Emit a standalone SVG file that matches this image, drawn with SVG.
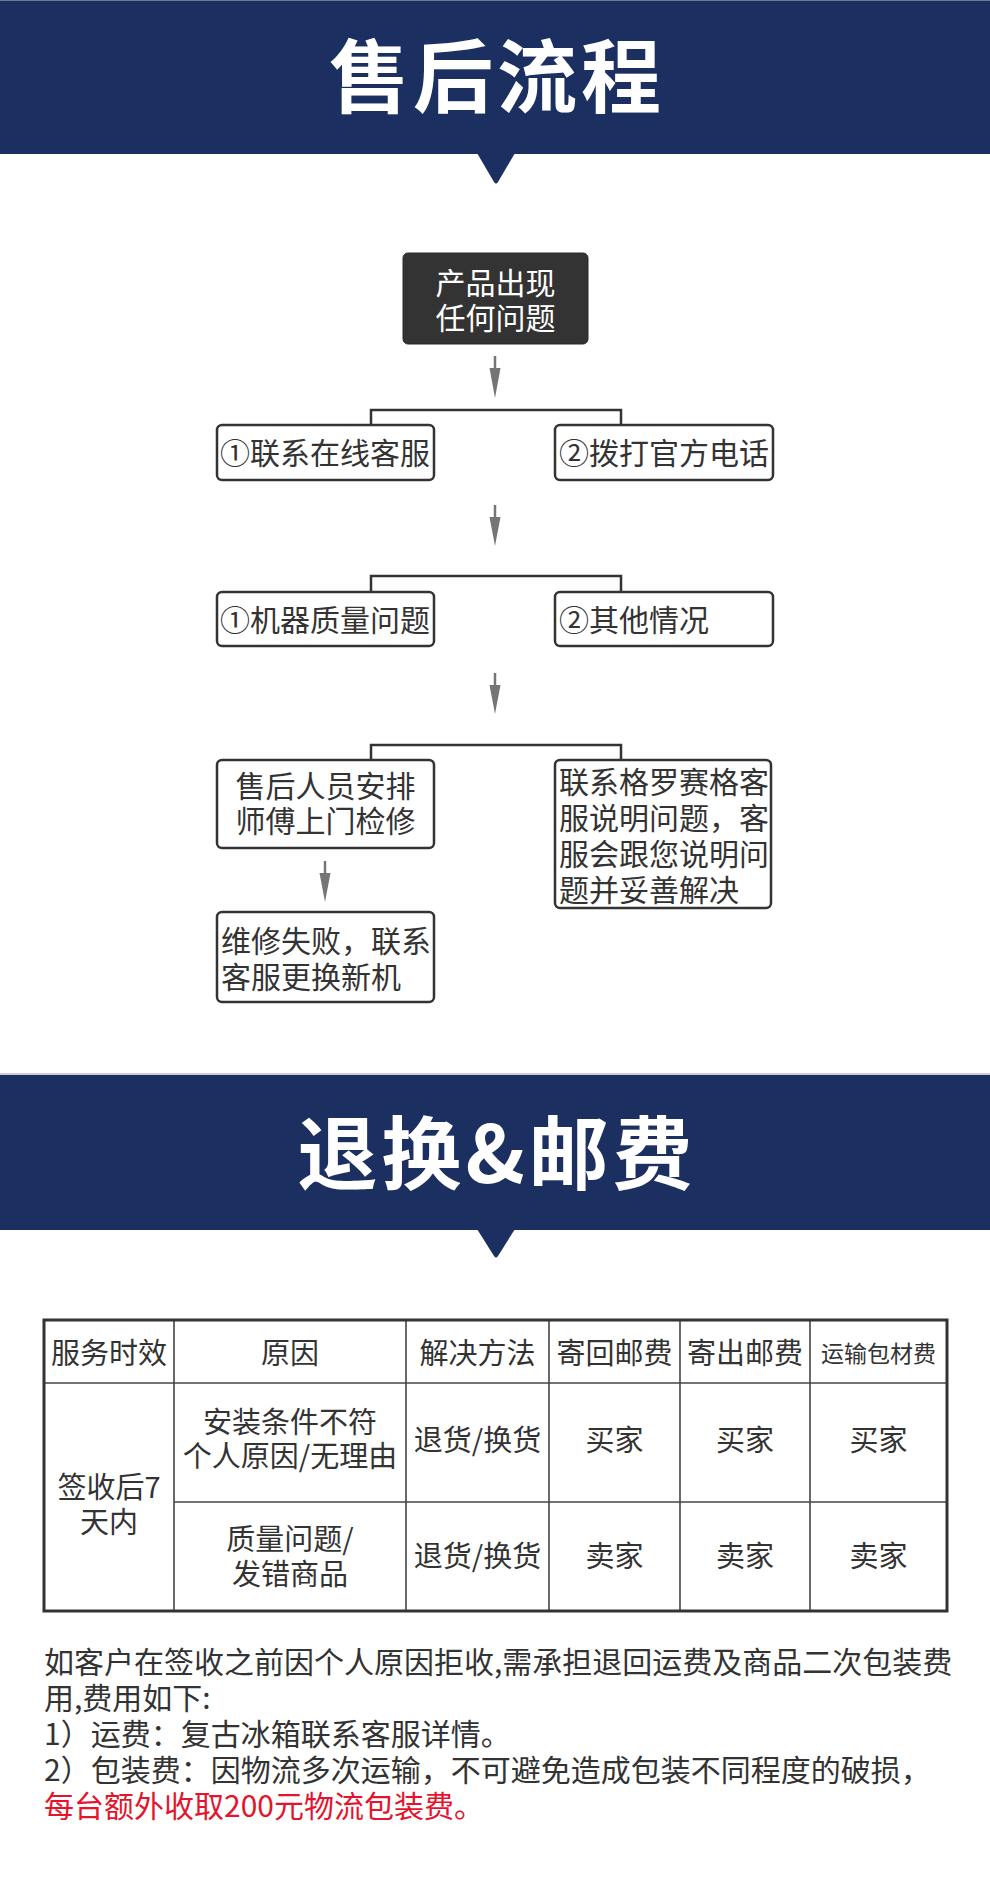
<svg xmlns="http://www.w3.org/2000/svg" width="990" height="1886" viewBox="0 0 990 1886">
<style>
text{font-family:"Noto Sans CJK SC","Noto Sans",sans-serif;fill:#333}
.title{font-size:80px;font-weight:700;fill:#fff;text-anchor:middle;letter-spacing:4px}
.banner{fill:#1b2f60}
.node{fill:#fff;stroke:#333;stroke-width:2.5}
.dark{fill:#333;stroke:#2a2a2a;stroke-width:1}
.nt{font-size:30px}
.wt{font-size:30px;fill:#fff;text-anchor:middle}
.c{text-anchor:middle}
.br{fill:none;stroke:#333;stroke-width:2.5}
.al{stroke:#757575;stroke-width:2.5;fill:none}
.ah{fill:#757575}
.tb{fill:none;stroke:#333;stroke-width:3}
.tl{stroke:#444;stroke-width:1.6}
.th{font-size:29px;text-anchor:middle}
.p{font-size:30px}
.red{fill:#e5132c}
</style>
<rect width="990" height="1886" fill="#fff"/>
<g id="banner1">
<rect class="banner" x="0" y="0" width="990" height="154"/>
<line x1="0" y1="0.5" x2="990" y2="0.5" stroke="#6b7897" stroke-width="1"/>
<path class="banner" d="M477,153 L515,153 L498,182 Q496,185 494,182 Z"/>
<text class="title" x="497" y="106">售后流程</text>
</g>
<g id="connectors">
<path class="br" d="M371,425 V410 H621 V425"/>
<path class="br" d="M371,592 V576 H621 V592"/>
<path class="br" d="M371,760 V745 H621 V760"/>
<line class="al" x1="495" y1="356" x2="495" y2="370"/>
<path class="ah" d="M489.5,368 L500.5,368 L495,398 Z"/>
<line class="al" x1="495" y1="505" x2="495" y2="519"/>
<path class="ah" d="M489.5,517 L500.5,517 L495,546 Z"/>
<line class="al" x1="495" y1="673" x2="495" y2="687"/>
<path class="ah" d="M489.5,685 L500.5,685 L495,714 Z"/>
<line class="al" x1="325" y1="861" x2="325" y2="875"/>
<path class="ah" d="M319.5,873 L330.5,873 L325,902 Z"/>
</g>
<g id="n-start">
<rect class="dark" x="403" y="253" width="185" height="91" rx="5"/>
<text class="wt" x="495.5" y="294">产品出现</text>
<text class="wt" x="495.5" y="329">任何问题</text>
</g>
<g id="n-online">
<rect class="node" x="217" y="425" width="217" height="55" rx="5"/>
<text class="nt" x="220" y="464">①联系在线客服</text>
</g>
<g id="n-phone">
<rect class="node" x="555" y="425" width="218" height="55" rx="5"/>
<text class="nt" x="559" y="464">②拨打官方电话</text>
</g>
<g id="n-quality">
<rect class="node" x="217" y="592" width="217" height="54" rx="5"/>
<text class="nt" x="220" y="631">①机器质量问题</text>
</g>
<g id="n-other">
<rect class="node" x="555" y="592" width="218" height="54" rx="5"/>
<text class="nt" x="559" y="631">②其他情况</text>
</g>
<g id="n-repair">
<rect class="node" x="217" y="760" width="217" height="88" rx="5"/>
<text class="nt c" x="325.5" y="797">售后人员安排</text>
<text class="nt c" x="325.5" y="832">师傅上门检修</text>
</g>
<g id="n-contact">
<rect class="node" x="555" y="760" width="216" height="148" rx="5"/>
<text class="nt" x="559" y="793">联系格罗赛格客</text>
<text class="nt" x="559" y="829">服说明问题，客</text>
<text class="nt" x="559" y="865">服会跟您说明问</text>
<text class="nt" x="559" y="901">题并妥善解决</text>
</g>
<g id="n-fail">
<rect class="node" x="217" y="912" width="217" height="90" rx="5"/>
<text class="nt" x="221" y="952">维修失败，联系</text>
<text class="nt" x="221" y="988">客服更换新机</text>
</g>
<g id="banner2">
<line x1="0" y1="1074" x2="990" y2="1074" stroke="#b9bcc4" stroke-width="1.5"/>
<rect class="banner" x="0" y="1075" width="990" height="155"/>
<path class="banner" d="M477,1229 L515,1229 L498,1256 Q496,1259 494,1256 Z"/>
<text class="title" x="497" y="1183">退换&amp;邮费</text>
</g>
<g id="table">
<line class="tl" x1="44" y1="1383" x2="947" y2="1383"/>
<line class="tl" x1="174" y1="1502" x2="947" y2="1502"/>
<line class="tl" x1="174" y1="1320" x2="174" y2="1611"/>
<line class="tl" x1="406" y1="1320" x2="406" y2="1611"/>
<line class="tl" x1="549" y1="1320" x2="549" y2="1611"/>
<line class="tl" x1="680" y1="1320" x2="680" y2="1611"/>
<line class="tl" x1="810" y1="1320" x2="810" y2="1611"/>
<rect class="tb" x="44" y="1320" width="903" height="291"/>
<text class="th" x="109" y="1364">服务时效</text>
<text class="th" x="290" y="1364">原因</text>
<text class="th" x="477.5" y="1364">解决方法</text>
<text class="th" x="614.5" y="1364">寄回邮费</text>
<text class="th" x="745" y="1364">寄出邮费</text>
<text class="th" x="878.5" y="1362" style="font-size:23px">运输包材费</text>
<text class="th" x="109" y="1498">签收后7</text>
<text class="th" x="109" y="1533">天内</text>
<text class="th" x="290" y="1433">安装条件不符</text>
<text class="th" x="290" y="1467">个人原因/无理由</text>
<text class="th" x="477.5" y="1451">退货/换货</text>
<text class="th" x="614.5" y="1451">买家</text>
<text class="th" x="745" y="1451">买家</text>
<text class="th" x="878.5" y="1451">买家</text>
<text class="th" x="290" y="1550">质量问题/</text>
<text class="th" x="290" y="1585">发错商品</text>
<text class="th" x="477.5" y="1567">退货/换货</text>
<text class="th" x="614.5" y="1567">卖家</text>
<text class="th" x="745" y="1567">卖家</text>
<text class="th" x="878.5" y="1567">卖家</text>
</g>
<g id="notes">
<text class="p" x="44" y="1673">如客户在签收之前因个人原因拒收,需承担退回运费及商品二次包装费</text>
<text class="p" x="44" y="1709">用,费用如下:</text>
<text class="p" x="44" y="1745">1）运费：复古冰箱联系客服详情。</text>
<text class="p" x="44" y="1781">2）包装费：因物流多次运输，不可避免造成包装不同程度的破损，</text>
<text class="p red" x="44" y="1817">每台额外收取200元物流包装费。</text>
</g>
</svg>
